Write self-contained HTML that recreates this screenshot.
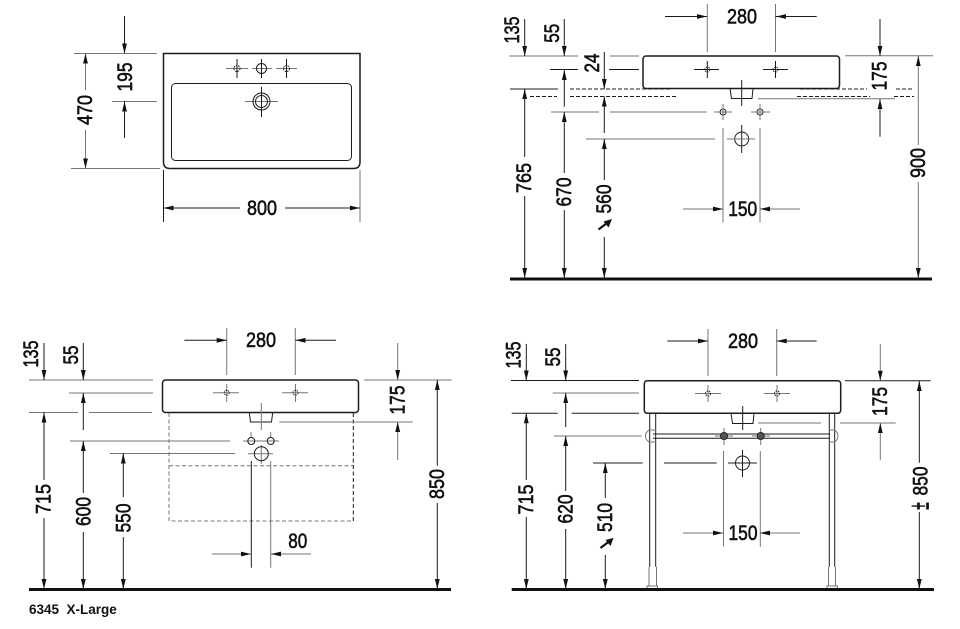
<!DOCTYPE html>
<html><head><meta charset="utf-8"><style>
html,body{margin:0;padding:0;background:#fff}
svg{display:block}
.k{stroke:#1c1c1c;stroke-width:1;fill:none}
.g{stroke:#777;stroke-width:1;fill:none}
.s{stroke:#1c1c1c;stroke-width:1.5;fill:none}
.b{stroke:#111;stroke-width:3;fill:none}
text{font-family:"Liberation Sans",sans-serif;font-size:21px;fill:#111;stroke:#111;stroke-width:.6;text-anchor:middle}
use{fill:#111}
</style></head><body>
<svg width="960" height="629" viewBox="0 0 960 629" xmlns="http://www.w3.org/2000/svg">
<defs>
<path id="d" d="M0 0L-2.4-10H2.4Z"/>
<path id="u" d="M0 0L-2.4 10H2.4Z"/>
<path id="r" d="M0 0L-10-2.4V2.4Z"/>
<path id="l" d="M0 0L10-2.4V2.4Z"/>
</defs>

<!-- Panel 1 -->
<path class="s" d="M163.5 53.5H360V162Q360 168.5 353.5 168.5H170Q163.5 168.5 163.5 162Z"/>
<rect class="k" x="171.5" y="83.5" width="180" height="77" rx="4"/>
<path class="g" d="M226 68.5H248M276 68.5H297M252 68.5H272M245 101.5H278"/>
<path class="k" d="M237 59V78M261.5 59V78M286.5 59V78M261.5 87V117"/>
<circle class="k" cx="237" cy="68.5" r="3" stroke-dasharray="1.5 1"/>
<circle class="k" cx="261.5" cy="68.5" r="5"/>
<circle class="k" cx="286.5" cy="68.5" r="3" stroke-dasharray="1.5 1"/>
<circle class="k" cx="261.5" cy="101.5" r="8.5"/>
<circle class="k" cx="261.5" cy="101.5" r="6"/>
<path class="g" d="M74 53.5H157M71 168.5H160M112 101.5H157M85.5 53V90M85.5 130V168M360 170V222"/>
<path class="k" d="M124.5 16V53M124.5 101V138M163.5 170V222M164 208H240M285 208H360"/>
<use href="#u" x="85.5" y="53.5"/><use href="#d" x="85.5" y="168.5"/><use href="#d" x="124.5" y="53.5"/><use href="#u" x="124.5" y="101.5"/><use href="#l" x="163.5" y="208"/><use href="#r" x="360" y="208"/>
<text transform="translate(85 110) rotate(-90)" y="7" textLength="30" lengthAdjust="spacingAndGlyphs">470</text>
<text transform="translate(125 77) rotate(-90)" y="7" textLength="29" lengthAdjust="spacingAndGlyphs">195</text>
<text x="262" y="215" textLength="30" lengthAdjust="spacingAndGlyphs">800</text>

<!-- Panel 2 -->
<rect class="s" x="643" y="56" width="196.5" height="32.5" rx="3"/>
<path class="k" d="M730 88.5L731.500 98.500H752L753 88.500M741.700 80V106"/>
<path class="k" d="M707.300 61V78M694 69.500H719M775.500 61V78M763 69.500H788"/>
<circle class="k" cx="707.300" cy="69.500" r="2.500" stroke-dasharray="1.500 1"/>
<circle class="k" cx="775.500" cy="69.500" r="2.500" stroke-dasharray="1.500 1"/>
<circle class="k" cx="723" cy="112" r="3"/><circle class="k" cx="760" cy="112" r="3"/>
<circle class="k" cx="741.700" cy="139" r="7"/>
<path class="k" d="M741.700 125V153"/>
<path class="g" d="M714 112H732M723 104V120M751 112H770M760 104V120M727 139H755M723 128V222.500M760 128V222.500"/>
<path class="g" d="M707.300 4V52M775.500 4V52M509 56H578M610 56H639M551 112H599M610 112H707M586 139H715M845 55.700H933M758 98.700H895M683 209H723M760 209H800M918.300 56V145M918.300 182V278"/>
<path class="k" d="M550 69.500H578M609 69.500H639M510 89H558"/>
<path class="k" stroke-dasharray="4 2" d="M518 89H558M570 89H672M800 89H867M896 89H914M530 96.500H557M570 96.500H677M797 96.500H870M894 96.500H914"/>
<path class="k" d="M665 16.500H707M775.500 16.500H816.700M524.700 19V56M524.700 89V157M524.700 196V278M564.300 19V56M564.300 69.500V106.700M564.300 112V173M564.300 210V278M604.300 52V89M604.300 96.500V133M604.300 139V180M604.300 237V278M880 19V56M880 99V136.700"/>
<use href="#r" x="707" y="16.500"/><use href="#l" x="776" y="16.500"/>
<use href="#d" x="524.700" y="56"/><use href="#u" x="524.700" y="89"/><use href="#d" x="524.700" y="278"/>
<use href="#d" x="564.300" y="56"/><use href="#u" x="564.300" y="70"/><use href="#u" x="564.300" y="112"/><use href="#d" x="564.300" y="278"/>
<use href="#d" x="604.300" y="89"/><use href="#u" x="604.300" y="96.500"/><use href="#u" x="604.300" y="139"/><use href="#d" x="604.300" y="278"/>
<use href="#d" x="880" y="56"/><use href="#u" x="880" y="99"/>
<use href="#u" x="918.300" y="56"/><use href="#d" x="918.300" y="278"/>
<use href="#r" x="723" y="209"/><use href="#l" x="760" y="209"/>
<path d="M598.500 229.500L607 223" stroke="#111" stroke-width="2.200" fill="none"/><path d="M612 219L603.500 221.500L608.500 227.500Z" fill="#111"/>
<path class="b" d="M510 279H932"/>
<text x="742" y="23.500" textLength="30" lengthAdjust="spacingAndGlyphs">280</text>
<text x="742.700" y="216" textLength="29" lengthAdjust="spacingAndGlyphs">150</text>
<text transform="translate(512 30) rotate(-90)" y="7" textLength="27" lengthAdjust="spacingAndGlyphs">135</text>
<text transform="translate(552 33.300) rotate(-90)" y="7" textLength="19" lengthAdjust="spacingAndGlyphs">55</text>
<text transform="translate(592 63) rotate(-90)" y="7" textLength="19" lengthAdjust="spacingAndGlyphs">24</text>
<text transform="translate(524 178) rotate(-90)" y="7" textLength="30" lengthAdjust="spacingAndGlyphs">765</text>
<text transform="translate(564 192) rotate(-90)" y="7" textLength="29" lengthAdjust="spacingAndGlyphs">670</text>
<text transform="translate(604 199) rotate(-90)" y="7" textLength="29" lengthAdjust="spacingAndGlyphs">560</text>
<text transform="translate(879.500 76) rotate(-90)" y="7" textLength="29" lengthAdjust="spacingAndGlyphs">175</text>
<text transform="translate(918 163) rotate(-90)" y="7" textLength="30" lengthAdjust="spacingAndGlyphs">900</text>

<!-- Panel 3 -->
<rect class="s" x="162.500" y="380" width="196" height="32.500" rx="3"/>
<path class="k" d="M249.300 412.500L250.500 422H271.500L272.700 412.500"/>
<path class="g" d="M261.300 403V430M226.700 384V402M213 392.700H239M295.500 384V402M282 392.700H308M243 441H279M251 432V438M270.700 432V438M248 453.700H273M261.300 445V464"/>
<circle class="k" cx="226.700" cy="392.700" r="2.500" stroke-dasharray="1.500 1"/>
<circle class="k" cx="295.500" cy="392.700" r="2.500" stroke-dasharray="1.500 1"/>
<circle class="k" cx="251.300" cy="441" r="3.500"/><circle class="k" cx="270.700" cy="441" r="3.500"/>
<circle class="k" cx="261.300" cy="453.700" r="7"/>
<path class="g" stroke-dasharray="4 2.500" stroke-width="1.200" d="M169 413V521H353M169 465.700H353"/>
<path class="k" stroke-dasharray="4 2.500" d="M353.300 413V521"/>
<path class="k" d="M251.300 461V567.700"/>
<path class="g" d="M270.700 461V567.700M29 380H153M69 393H153M29 412.500H78M89 412.500H152M70 441H230M110 453.500H235M364 380H451.700M279.300 422H412.700M212 554H251M271 554H311M226.700 328V375M295.300 328V375M397.700 343V380M397.700 422V460"/>
<path class="k" d="M184.300 340.300H226.700M295.300 340.300H336M44 343V380M44 412V480M44 518V589M83.300 343V380M83.300 393V430M83.300 441V493M83.300 532V589M123.300 453V497M123.300 537V589M437.300 380V465.700M437.300 503V589"/>
<use href="#r" x="226.700" y="340.300"/><use href="#l" x="295.500" y="340.300"/>
<use href="#d" x="44" y="380"/><use href="#u" x="44" y="412.500"/><use href="#d" x="44" y="589"/>
<use href="#d" x="83.300" y="380"/><use href="#u" x="83.300" y="393"/><use href="#u" x="83.300" y="441"/><use href="#d" x="83.300" y="589"/>
<use href="#u" x="123.300" y="453.500"/><use href="#d" x="123.300" y="589"/>
<use href="#d" x="397.700" y="380"/><use href="#u" x="397.700" y="422"/>
<use href="#u" x="437.300" y="380"/><use href="#d" x="437.300" y="589"/>
<use href="#r" x="251" y="554"/><use href="#l" x="271" y="554"/>
<path class="b" d="M29 589.500H451"/>
<text x="261" y="347" textLength="30" lengthAdjust="spacingAndGlyphs">280</text>
<text x="297.700" y="548" textLength="19" lengthAdjust="spacingAndGlyphs">80</text>
<text transform="translate(31 354) rotate(-90)" y="7" textLength="27" lengthAdjust="spacingAndGlyphs">135</text>
<text transform="translate(71 355) rotate(-90)" y="7" textLength="19" lengthAdjust="spacingAndGlyphs">55</text>
<text transform="translate(43.500 499) rotate(-90)" y="7" textLength="30" lengthAdjust="spacingAndGlyphs">715</text>
<text transform="translate(83.500 511.500) rotate(-90)" y="7" textLength="29" lengthAdjust="spacingAndGlyphs">600</text>
<text transform="translate(123.500 518) rotate(-90)" y="7" textLength="29" lengthAdjust="spacingAndGlyphs">550</text>
<text transform="translate(397.500 400) rotate(-90)" y="7" textLength="29" lengthAdjust="spacingAndGlyphs">175</text>
<text transform="translate(437 484) rotate(-90)" y="7" textLength="30" lengthAdjust="spacingAndGlyphs">850</text>
<text x="29" y="614" style="text-anchor:start;font-size:13.5px;font-weight:bold;stroke:none;white-space:pre">6345  X-Large</text>

<!-- Panel 4 -->
<path class="k" d="M649.700 413V566.700M655.700 413V566.700M829.300 413V566.700M834.700 413V566.700"/>
<path class="g" d="M649 566.700V586M656.500 566.700V586M828.500 566.700V586M835.500 566.700V586M647 586H657.500V589H647ZM827 586H837.500V589H827Z"/>
<path class="k" d="M653 434H830M653 438.300H830"/>
<path class="g" d="M649.500 430A6.500 6.500 0 0 0 649.500 442L656 442M656 430H649.500M834 430A6.500 6.500 0 0 1 834 442M829 430H834M829 442H834"/>
<rect class="s" x="644.300" y="380.700" width="196.400" height="32.600" rx="3" style="fill:#fff"/>
<path class="k" d="M731 413.300L732.500 423.500H753L754 413.300M742.700 406V430"/>
<path class="g" d="M708 385V402M695 393.500H721M777 385V402M764 393.500H790M715 436H733M724 428V445M752 436H770M760.700 428V445M723.500 451V546.700M760.300 451V546.700"/>
<circle class="k" cx="708" cy="393.500" r="2.500" stroke-dasharray="1.500 1"/>
<circle class="k" cx="777" cy="393.500" r="2.500" stroke-dasharray="1.500 1"/>
<circle cx="724" cy="436" r="3.500" fill="#555" stroke="#222"/><circle cx="760.700" cy="436" r="3.500" fill="#555" stroke="#222"/>
<circle class="k" cx="742.500" cy="463" r="7"/>
<path class="k" d="M742.500 450V477M728 463H757"/>
<path class="g" d="M708 329V376M776.700 329V376M552.700 393H639M554 436H641.700M758 423H821M840 423H895.700M683 533H723M760 533H800M880.300 344V381M880.300 423V460"/>
<path class="k" d="M511 380.500H639M511.700 413.300H557.700M571.700 413.300H639M593 463H642.700M664 463H716.700M845 380.700H930.700M667.300 341H708M776.700 341H816.700M526.300 344V380M526.300 413V480M526.300 517V589M565.700 344V380.700M565.700 393V427M565.700 436V491M565.700 529V589M605.300 463V498M605.300 555V589M919.300 381V462.700M919.300 512V589"/>
<use href="#r" x="708" y="341"/><use href="#l" x="776.700" y="341"/>
<use href="#d" x="526.300" y="380.500"/><use href="#u" x="526.300" y="413.300"/><use href="#d" x="526.300" y="589"/>
<use href="#d" x="565.700" y="380.500"/><use href="#u" x="565.700" y="393"/><use href="#u" x="565.700" y="436"/><use href="#d" x="565.700" y="589"/>
<use href="#u" x="605.300" y="463"/><use href="#d" x="605.300" y="589"/>
<use href="#d" x="880.300" y="380.700"/><use href="#u" x="880.300" y="423"/>
<use href="#u" x="919.300" y="381"/><use href="#d" x="919.300" y="589"/>
<use href="#r" x="723" y="533"/><use href="#l" x="760" y="533"/>
<path d="M600.500 548L609 541.500" stroke="#111" stroke-width="2.200" fill="none"/><path d="M613.500 538L605.500 540L610.500 546Z" fill="#111"/>
<path class="b" d="M511.700 589.500H934"/>
<text x="743" y="348" textLength="30" lengthAdjust="spacingAndGlyphs">280</text>
<text x="743" y="540" textLength="29" lengthAdjust="spacingAndGlyphs">150</text>
<text transform="translate(513.500 355) rotate(-90)" y="7" textLength="27" lengthAdjust="spacingAndGlyphs">135</text>
<text transform="translate(553 357) rotate(-90)" y="7" textLength="19" lengthAdjust="spacingAndGlyphs">55</text>
<text transform="translate(526 499.500) rotate(-90)" y="7" textLength="30" lengthAdjust="spacingAndGlyphs">715</text>
<text transform="translate(565.500 509) rotate(-90)" y="7" textLength="29" lengthAdjust="spacingAndGlyphs">620</text>
<text transform="translate(605 517.500) rotate(-90)" y="7" textLength="29" lengthAdjust="spacingAndGlyphs">510</text>
<text transform="translate(880 401.500) rotate(-90)" y="7" textLength="29" lengthAdjust="spacingAndGlyphs">175</text>
<text transform="translate(920.500 481) rotate(-90)" y="7" textLength="29" lengthAdjust="spacingAndGlyphs">850</text>
<text transform="translate(920.500 506) rotate(-90) scale(.65 1.3)" y="6">±</text>
</svg>
</body></html>
